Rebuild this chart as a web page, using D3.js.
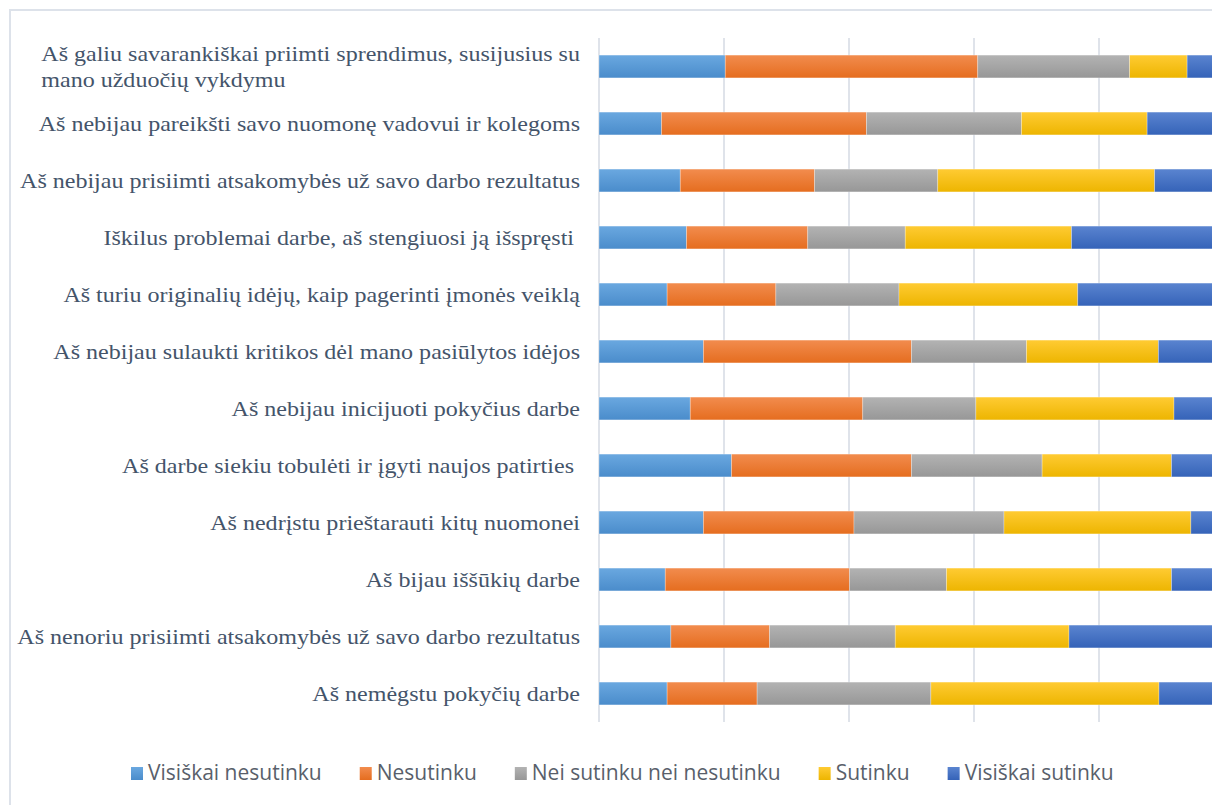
<!DOCTYPE html>
<html>
<head>
<meta charset="utf-8">
<script src="https://cdn.jsdelivr.net/npm/d3@7"></script>
<style>
  html, body { margin: 0; padding: 0; background: #ffffff; overflow: hidden; }
  svg { display: block; }
  .cat { font-family: "Liberation Serif", "Tinos", "Times New Roman", "DejaVu Serif", serif; }
  .leg { font-family: "Open Sans", "Lato", sans-serif; }
</style>
</head>
<body>
<svg id="chart" width="1212" height="805"></svg>
<script>
// ---- Data (percent of respondents) ----
const categories = [
  ["Aš galiu savarankiškai priimti sprendimus, susijusius su", "mano užduočių vykdymu"],
  ["Aš nebijau pareikšti savo nuomonę vadovui ir kolegoms"],
  ["Aš nebijau prisiimti atsakomybės už savo darbo rezultatus"],
  ["Iškilus problemai darbe, aš stengiuosi ją išspręsti "],
  ["Aš turiu originalių idėjų, kaip pagerinti įmonės veiklą"],
  ["Aš nebijau sulaukti kritikos dėl mano pasiūlytos idėjos"],
  ["Aš nebijau inicijuoti pokyčius darbe"],
  ["Aš darbe siekiu tobulėti ir įgyti naujos patirties "],
  ["Aš nedrįstu prieštarauti kitų nuomonei"],
  ["Aš bijau iššūkių darbe"],
  ["Aš nenoriu prisiimti atsakomybės už savo darbo rezultatus"],
  ["Aš nemėgstu pokyčių darbe"]
];
const seriesNames = ["Visiškai nesutinku", "Nesutinku", "Nei sutinku nei nesutinku", "Sutinku", "Visiškai sutinku"];
const visiskaiNesutinku = [20.2, 10.0, 13.0, 14.0, 10.9, 16.7, 14.6, 21.2, 16.7, 10.6, 11.5, 10.9];
const nesutinku         = [40.4, 32.8, 21.5, 19.4, 17.4, 33.3, 27.6, 28.8, 24.1, 29.5, 15.8, 14.4];
const neiSutinku        = [24.3, 24.8, 19.7, 15.6, 19.7, 18.4, 18.1, 20.9, 24.0, 15.5, 20.1, 27.8];
const sutinku           = [ 9.2, 20.1, 34.7, 26.6, 28.6, 21.1, 31.7, 20.7, 29.9, 36.0, 27.8, 36.5];
const visiskaiSutinku   = [ 5.9, 12.3, 11.1, 24.4, 23.4, 10.5,  8.0,  8.4,  5.3,  8.4, 24.8, 10.4];
const xTicks = [0, 20, 40, 60, 80, 100];

const colorsLight = ["#6aa8e0", "#f28c4e", "#b3b3b3", "#ffcb33", "#5a84d0"];
const colorsDark = ["#4a8ccb", "#e56d1f", "#979797", "#edb500", "#3563b8"];

const seriesValues = [visiskaiNesutinku, nesutinku, neiSutinku, sutinku, visiskaiSutinku];

const rows = categories.map((c, i) => {
  const o = { idx: i };
  seriesNames.forEach((s, k) => { o[s] = seriesValues[k][i]; });
  return o;
});
const stacked = d3.stack().keys(seriesNames).offset(d3.stackOffsetExpand)(rows);

const svg = d3.select("#chart");

// chart border
svg.append("path")
  .attr("d", "M10,820 L10,10 L1230,10")
  .attr("fill", "none")
  .attr("stroke", "#dde2ea")
  .attr("stroke-width", 2);

const margin = { top: 38, bottom: 722 };
const x = d3.scaleLinear().domain([0, 1]).range([599, 1224]);
const y = d3.scaleBand().domain(d3.range(categories.length)).range([margin.top, margin.bottom]).paddingInner(0.6).paddingOuter(0.3);

const defs = svg.append("defs");
seriesNames.forEach((s, k) => {
  const g = defs.append("linearGradient").attr("id", "grad" + k)
    .attr("x1", 0).attr("y1", 0).attr("x2", 0).attr("y2", 1);
  g.append("stop").attr("offset", "0%").attr("stop-color", colorsLight[k]);
  g.append("stop").attr("offset", "100%").attr("stop-color", colorsDark[k]);
});

// gridlines
svg.append("g")
  .selectAll("line")
  .data(xTicks)
  .join("line")
  .attr("x1", d => x(d / 100)).attr("x2", d => x(d / 100))
  .attr("y1", margin.top).attr("y2", margin.bottom)
  .attr("stroke", "#dfe3ea")
  .attr("stroke-width", 2);

// bars
svg.append("g")
  .selectAll("g")
  .data(stacked)
  .join("g")
  .attr("fill", (d, k) => `url(#grad${k})`)
  .selectAll("rect")
  .data(d => d)
  .join("rect")
  .attr("x", d => x(d[0]))
  .attr("y", d => y(d.data.idx))
  .attr("width", d => x(d[1]) - x(d[0]))
  .attr("height", y.bandwidth())
  .attr("stroke", "rgba(255,255,255,0.35)")
  .attr("stroke-width", 0.8);

// category labels (slightly wide-set, as in the reference)
const labelRight = 580;
const stretch = 1.145;
const lg = svg.append("g")
  .attr("class", "cat")
  .attr("transform", `translate(${labelRight},0) scale(${stretch},1)`)
  .attr("font-size", 21)
  .attr("fill", "#44546a");
categories.forEach((lines, i) => {
  const cy = y(i) + y.bandwidth() / 2;
  const lh = 26.5;
  const t = lg.append("text")
    .attr("xml:space", "preserve")
    .attr("x", 0)
    .attr("y", cy - (lines.length - 1) * lh / 2)
    .attr("dy", "0.35em")
    .attr("text-anchor", "end")
    .text(lines[0]);
  if (lines.length > 1) {
    const w = t.node().getComputedTextLength();
    lg.append("text")
      .attr("x", -w)
      .attr("y", cy + (lines.length - 1) * lh / 2)
      .attr("dy", "0.35em")
      .attr("text-anchor", "start")
      .text(lines[1]);
  }
});

// legend
const legend = svg.append("g")
  .attr("class", "leg")
  .attr("font-size", 21)
  .attr("fill", "#595f6b");
const legendY = 773;
const items = [];
seriesNames.forEach((s, k) => {
  const g = legend.append("g");
  g.append("rect").attr("x", 0).attr("y", -6).attr("width", 12).attr("height", 13)
    .attr("fill", `url(#grad${k})`);
  const t = g.append("text").attr("x", 17).attr("y", 0).attr("dy", "0.35em").text(s);
  const w = 17 + t.node().getComputedTextLength();
  items.push({ g, w });
});
const gap = 38;
let startX = 131;
items.forEach(it => {
  it.g.attr("transform", `translate(${startX},${legendY})`);
  startX += it.w + gap;
});
</script>
</body>
</html>
